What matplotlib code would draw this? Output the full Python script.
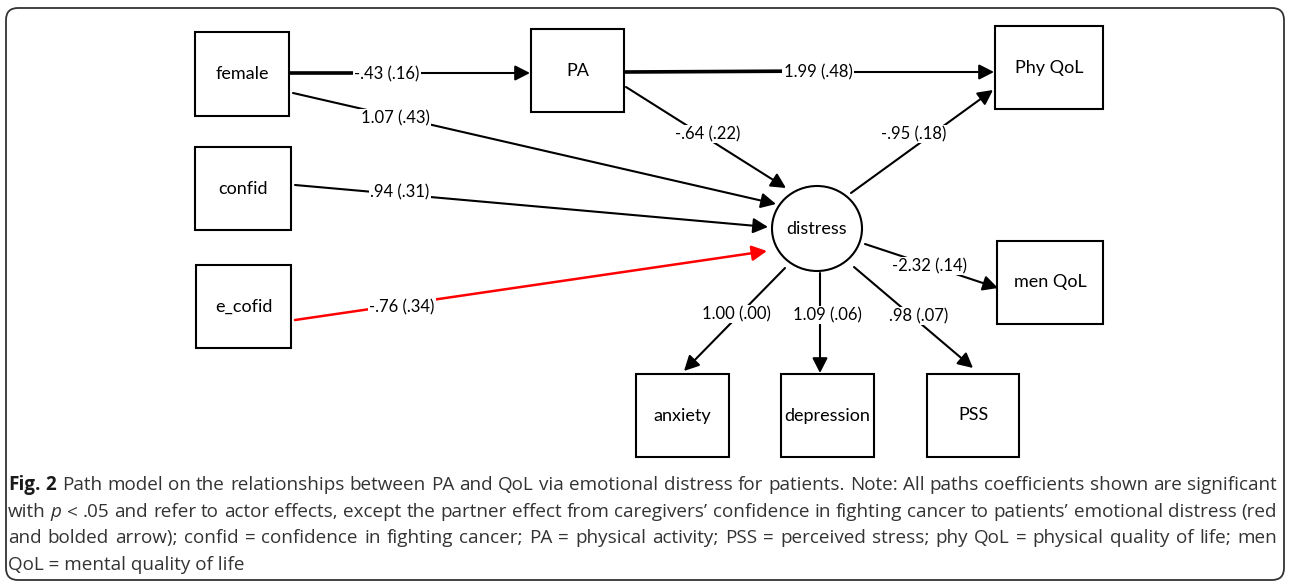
import matplotlib
matplotlib.use("Agg")
import matplotlib.pyplot as plt
from matplotlib.patches import Rectangle, Ellipse, FancyArrowPatch, FancyBboxPatch

# --- model content -------------------------------------------------------
box_names = ["female", "PA", "confid", "e_cofid", "Phy QoL", "men QoL",
             "anxiety", "depression", "PSS"]
latent_name = "distress"

# path: source -> target, coefficient (SE)
path_from = ["female", "female", "confid", "e_cofid", "PA", "PA",
             "distress", "distress", "distress", "distress", "distress"]
path_to = ["PA", "distress", "distress", "distress", "Phy QoL", "distress",
           "Phy QoL", "men QoL", "anxiety", "depression", "PSS"]
path_coef = ["-.43 (.16)", "1.07 (.43)", ".94 (.31)", "-.76 (.34)",
             "1.99 (.48)", "-.64 (.22)", "-.95 (.18)", "-2.32 (.14)",
             "1.00 (.00)", "1.09 (.06)", ".98 (.07)"]
partner_from = ["e_cofid"]  # partner effect, drawn red

caption_lines = [
    "**Fig.** **2** Path model on the relationships between PA and QoL via emotional distress for patients. Note: All paths coefficients shown are significant",
    "with *p* < .05 and refer to actor effects, except the partner effect from caregivers\u2019 confidence in fighting cancer to patients\u2019 emotional distress (red",
    "and bolded arrow); confid = confidence in fighting cancer; PA = physical activity; PSS = perceived stress; phy QoL = physical quality of life; men",
    "QoL = mental quality of life",
]

# --- layout (pixel coordinates, y down) ----------------------------------
box_rect = {
    "female": (195, 32, 94, 84),
    "PA": (531, 29, 93, 83),
    "confid": (195, 147, 96, 83),
    "e_cofid": (196, 265, 95, 83),
    "Phy QoL": (995, 26, 108, 83),
    "men QoL": (997, 241, 106, 83),
    "anxiety": (636, 374, 93, 83),
    "depression": (781, 374, 93, 83),
    "PSS": (927, 374, 92, 83),
}
latent_center, latent_w, latent_h = (817, 228.5), 90, 85

path_start = [(290, 73), (293, 93), (295, 185), (295, 320), (625, 72), (626, 87),
              (851, 193), (865, 244), (785, 268), (820, 273), (854, 267)]
path_end = [(530, 73), (776, 204), (768, 227), (767, 251), (994, 72), (786, 188),
            (993, 90), (998, 288), (684, 371), (820, 373), (973, 368)]
label_at = [(387, 74), (395, 118), (400, 192), (402, 307), (818, 72), (708, 134),
            (914, 134), (929, 266), (736, 314), (827, 315), (919, 316)]
bold_lead = [0, 4]  # horizontal paths drawn heavier up to the label

node_font = "Lato"
cap_font = "Open Sans"

fig = plt.figure(figsize=(12.9, 5.84), dpi=100)
ax = fig.add_axes([0, 0, 1, 1])
ax.set_xlim(0, 1290)
ax.set_ylim(584, 0)
ax.axis("off")

# outer frame
ax.add_patch(FancyBboxPatch((6, 8), 1278, 572, boxstyle="round,pad=0,rounding_size=12",
                            fill=False, ec="#333333", lw=1.3))

for name in box_names:
    x, y, w, h = box_rect[name]
    ax.add_patch(Rectangle((x, y), w, h, fill=True, fc="white", ec="black", lw=1.5, zorder=3))
    ax.text(x + w / 2, y + h / 2, name, ha="center", va="center", fontsize=13,
            family=node_font, zorder=4)

ax.add_patch(Ellipse(latent_center, latent_w, latent_h, fc="white", ec="black", lw=1.5, zorder=3))
ax.text(latent_center[0], latent_center[1] + 1, latent_name, ha="center", va="center",
        fontsize=13, family=node_font, zorder=4)

for i, (src, coef) in enumerate(zip(path_from, path_coef)):
    col = "#ff0000" if src in partner_from else "black"
    lw = 1.8 if src in partner_from else 1.5
    arr = FancyArrowPatch(path_start[i], path_end[i],
                          arrowstyle="-|>,head_length=9,head_width=4.6",
                          mutation_scale=1, shrinkA=0, shrinkB=0,
                          color=col, lw=lw, zorder=2)
    ax.add_patch(arr)
    if i in bold_lead:
        ax.plot([path_start[i][0], label_at[i][0]], [path_start[i][1], label_at[i][1] - 1],
                color=col, lw=2.6, solid_capstyle="butt", zorder=2)
    ax.text(label_at[i][0], label_at[i][1], coef, ha="center", va="center",
            fontsize=12, family=node_font, zorder=5,
            bbox=dict(boxstyle="square,pad=0.08", fc="white", ec="none"))

# --- caption, justified word by word -------------------------------------
renderer = fig.canvas.get_renderer()
cap_x0, cap_x1 = 8, 1277
cap_base = [490, 517, 543, 570]


def caption_words(line):
    parts = []
    for word in line.split(" "):
        if word.startswith("**"):
            parts.append((word.strip("*"), "bold", "normal", "#1a1a1a"))
        elif word.startswith("*") and len(word) > 2:
            parts.append((word.strip("*"), "normal", "italic", "#333333"))
        else:
            parts.append((word, "normal", "normal", "#333333"))
    return parts


def word_widths(objs):
    return [t.get_window_extent(renderer).width for t in objs]


# largest font size where every justified line still keeps normal spacing
cap_fs = 15.0
probe = ax.text(0, 0, "a a", family=cap_font)
while cap_fs > 9:
    probe.set_fontsize(cap_fs)
    probe.set_text("a a")
    w2 = probe.get_window_extent(renderer).width
    probe.set_text("aa")
    space_w = w2 - probe.get_window_extent(renderer).width
    ok = True
    for line in caption_lines[:-1]:
        parts = caption_words(line)
        total = 0
        for word, weight, style, c in parts:
            probe.set_text(word)
            probe.set_fontweight(weight)
            probe.set_fontstyle(style)
            total += probe.get_window_extent(renderer).width
        probe.set_fontweight("normal")
        probe.set_fontstyle("normal")
        if total + space_w * (len(parts) - 1) > cap_x1 - cap_x0:
            ok = False
            break
    if ok:
        break
    cap_fs -= 0.1
probe.remove()

for k, line in enumerate(caption_lines):
    last = k == len(caption_lines) - 1
    if last:
        ax.text(cap_x0, cap_base[k], line, fontsize=cap_fs, family=cap_font,
                color="#333333", va="baseline", ha="left")
        continue
    objs = []
    for word, weight, style, c in caption_words(line):
        objs.append(ax.text(cap_x0, cap_base[k], word, fontsize=cap_fs, family=cap_font,
                            weight=weight, style=style, color=c, va="baseline", ha="left"))
    widths = word_widths(objs)
    gap = (cap_x1 - cap_x0 - sum(widths)) / (len(objs) - 1)
    x = cap_x0
    for t, w in zip(objs, widths):
        t.set_x(x)
        x += w + gap

fig.savefig("out.png", dpi=100)
